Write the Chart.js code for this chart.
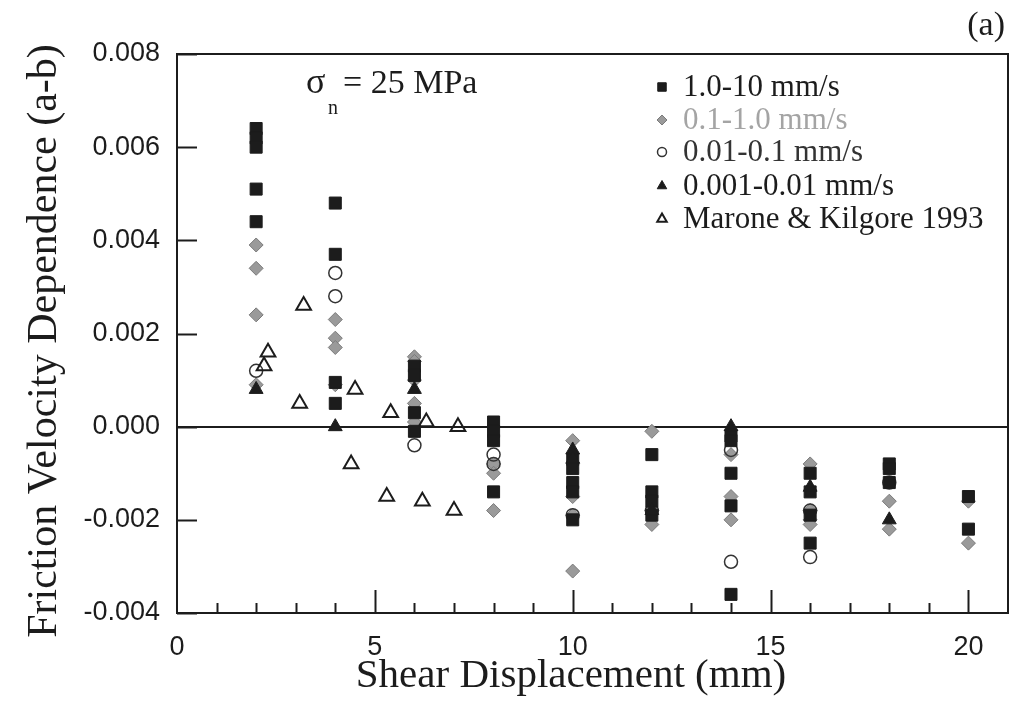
<!DOCTYPE html>
<html>
<head>
<meta charset="utf-8">
<script src="https://cdn.jsdelivr.net/npm/chart.js"></script>
<style>
  html, body { margin: 0; padding: 0; background: #fff; }
  #wrap { width: 1023px; height: 715px; }
</style>
</head>
<body>
<div id="wrap"><canvas id="frictionChart" width="1023" height="715"></canvas></div>
<script>
// Shear displacement (mm) / friction velocity dependence (a-b)
const fastX = [2, 2, 2, 2, 2, 4, 4, 4, 4, 6, 6, 6, 6, 8, 8, 8, 8, 10, 10, 10, 10, 10,
    12, 12, 12, 12, 14, 14, 14, 14, 14, 16, 16, 16, 16, 18, 18, 18, 20, 20];
const fastY = [0.0064, 0.0062, 0.0060, 0.0051, 0.0044, 0.0048, 0.0037, 0.00095, 0.0005,
    0.0013, 0.0011, 0.0003, -0.0001, 0.0001, -0.0001, -0.0003, -0.0014,
    -0.0007, -0.0009, -0.0012, -0.0014, -0.0020, -0.0006, -0.0014, -0.0016, -0.0019,
    -0.0002, -0.0003, -0.0010, -0.0017, -0.0036, -0.0010, -0.0014, -0.0019, -0.0025,
    -0.0008, -0.0009, -0.0012, -0.0015, -0.0022];

const midX = [2, 2, 2, 2, 4, 4, 4, 4, 6, 6, 6, 6, 6, 8, 8, 8, 10, 10, 10, 10,
    12, 12, 12, 14, 14, 14, 16, 16, 16, 16, 18, 18, 20, 20];
const midY = [0.0039, 0.0034, 0.0024, 0.0009, 0.0023, 0.0019, 0.0017, 0.0009,
    0.0015, 0.0014, 0.0010, 0.0005, 0.0001, -0.0008, -0.0010, -0.0018,
    -0.0003, -0.0015, -0.0019, -0.0031, -0.0001, -0.0018, -0.0021,
    -0.0006, -0.0015, -0.0020, -0.0008, -0.0018, -0.0020, -0.0021,
    -0.0016, -0.0022, -0.0016, -0.0025];

const slowX = [2, 4, 4, 6, 8, 8, 10, 12, 14, 14, 16, 16, 18];
const slowY = [0.0012, 0.0033, 0.0028, -0.0004, -0.0006, -0.0008, -0.0019, -0.0018,
    -0.0005, -0.0029, -0.0018, -0.0028, -0.0012];

const slowestX = [2, 4, 6, 10, 10, 12, 14, 16, 18];
const slowestY = [0.0008, 0.0000, 0.0008, -0.0005, -0.0007, -0.0018, 0.0000, -0.0013, -0.0020];

const mkX = [2.2, 2.3, 3.1, 3.2, 4.4, 4.5, 5.3, 5.4, 6.2, 6.3, 7.0, 7.1];
const mkY = [0.0013, 0.0016, 0.0005, 0.0026, -0.0008, 0.0008, -0.0015, 0.0003, -0.0016, 0.0001, -0.0018, 0.0000];

const xTickValues = [0, 5, 10, 15, 20];
const yTickValues = [-0.004, -0.002, 0, 0.002, 0.004, 0.006, 0.008];

const INK = "#1c1c1c";
const GREY = "#9a9a9a";

function pts(xs, ys) {
    return xs.map((x, i) => ({ x: x, y: ys[i] }));
}

// inward ticks, box frame, axis titles, legend and the notes inside the plot
const frameAndNotes = {
    id: "frameAndNotes",
    afterDraw(chart) {
        const ctx = chart.ctx;
        const a = chart.chartArea;
        const xs = chart.scales.x;
        const ys = chart.scales.y;
        ctx.save();
        ctx.strokeStyle = INK;
        ctx.lineWidth = 2;

        // x ticks: minor every 1 mm, major every 5 mm
        for (let v = 1; v <= 20; v++) {
            const px = Math.round(xs.getPixelForValue(v)) + 0.5;
            const len = v % 5 === 0 ? 23 : 10;
            ctx.beginPath();
            ctx.moveTo(px, a.bottom);
            ctx.lineTo(px, a.bottom - len);
            ctx.stroke();
        }
        // y ticks
        yTickValues.forEach((v) => {
            const py = Math.round(ys.getPixelForValue(v)) + 0.5;
            ctx.beginPath();
            ctx.moveTo(a.left, py);
            ctx.lineTo(a.left + 20, py);
            ctx.stroke();
        });
        ctx.strokeRect(a.left, a.top, a.right - a.left, a.bottom - a.top);

        // axis titles (the originals sit a little off the plot centre)
        ctx.fillStyle = INK;
        ctx.textAlign = "center";
        ctx.textBaseline = "middle";
        ctx.font = "41px 'Liberation Serif'";
        ctx.fillText("Shear Displacement (mm)", 571, 676);
        ctx.save();
        ctx.translate(45, 341);
        ctx.rotate(-Math.PI / 2);
        ctx.font = "42px 'Liberation Serif'";
        ctx.fillText("Friction Velocity Dependence (a-b)", 0, 0);
        ctx.restore();

        // legend
        const rowY = [87, 120, 152, 186, 219];
        const legendSize = [6, 5, 4.5, 5.5, 5.5];
        chart.data.datasets.forEach((ds, i) => {
            ctx.fillStyle = ds.pointBackgroundColor;
            ctx.strokeStyle = ds.pointBorderColor;
            ctx.lineWidth = ds.pointBorderWidth;
            Chart.helpers.drawPoint(ctx, {
                pointStyle: ds.pointStyle,
                radius: legendSize[i],
                rotation: 0,
                borderWidth: ds.pointBorderWidth,
            }, 662, rowY[i]);
            ctx.fillStyle = ds.legendColor;
            ctx.font = "31px 'Liberation Serif'";
            ctx.textAlign = "left";
            ctx.textBaseline = "middle";
            ctx.fillText(ds.label, 683, rowY[i] + 1);
        });

        // normal stress note
        ctx.fillStyle = INK;
        ctx.textBaseline = "alphabetic";
        ctx.font = "36px 'Liberation Serif'";
        ctx.fillText("σ", 306, 93);
        ctx.font = "20px 'Liberation Serif'";
        ctx.fillText("n", 328, 114);
        ctx.font = "34px 'Liberation Serif'";
        ctx.fillText("= 25 MPa", 343, 93);

        // panel letter
        ctx.textAlign = "right";
        ctx.fillText("(a)", 1005, 35);
        ctx.restore();
    },
};

const datasets = [
    {
        label: "1.0-10 mm/s",
        data: pts(fastX, fastY),
        pointStyle: "rect",
        pointRadius: 8.5,
        pointBackgroundColor: INK,
        pointBorderColor: INK,
        pointBorderWidth: 1,
        legendColor: INK,
        order: 2,
    },
    {
        label: "0.1-1.0 mm/s",
        data: pts(midX, midY),
        pointStyle: "rectRot",
        pointRadius: 7,
        pointBackgroundColor: GREY,
        pointBorderColor: "#7b7b7b",
        pointBorderWidth: 1,
        legendColor: "#a4a4a4",
        order: 5,
    },
    {
        label: "0.01-0.1 mm/s",
        data: pts(slowX, slowY),
        pointStyle: "circle",
        pointRadius: 6.5,
        pointBackgroundColor: "rgba(255,255,255,0)",
        pointBorderColor: "#333",
        pointBorderWidth: 1.5,
        legendColor: "#333",
        order: 4,
    },
    {
        label: "0.001-0.01 mm/s",
        data: pts(slowestX, slowestY),
        pointStyle: "triangle",
        pointRadius: 8,
        pointBackgroundColor: INK,
        pointBorderColor: INK,
        pointBorderWidth: 1,
        legendColor: INK,
        order: 1,
    },
    {
        label: "Marone & Kilgore 1993",
        data: pts(mkX, mkY),
        pointStyle: "triangle",
        pointRadius: 8.5,
        pointBackgroundColor: "rgba(255,255,255,0)",
        pointBorderColor: INK,
        pointBorderWidth: 2,
        legendColor: INK,
        order: 3,
    },
];

const frictionChart = new Chart(document.getElementById("frictionChart"), {
    type: "scatter",
    data: {
        datasets: datasets,
    },
    options: {
        responsive: false,
        animation: false,
        layout: {
            padding: { top: 54, right: 15, left: 0, bottom: 0 },
        },
        scales: {
            x: {
                type: "linear",
                min: 0,
                max: 21,
                afterBuildTicks: (scale) => {
                    scale.ticks = xTickValues.map((v) => ({ value: v }));
                },
                afterFit: (scale) => {
                    scale.height = 102;
                },
                grid: { display: false },
                border: { display: false },
                ticks: {
                    padding: 10,
                    color: INK,
                    font: { family: "'Liberation Sans'", size: 27 },
                    maxRotation: 0,
                },
            },
            y: {
                type: "linear",
                min: -0.004,
                max: 0.008,
                afterBuildTicks: (scale) => {
                    scale.ticks = yTickValues.map((v) => ({ value: v }));
                },
                afterFit: (scale) => {
                    scale.width = 177;
                },
                grid: {
                    drawTicks: false,
                    lineWidth: 2,
                    // only the zero line is drawn across the plot
                    color: (c) => (c.tick && Math.abs(c.tick.value) < 1e-9 ? INK : "rgba(0,0,0,0)"),
                },
                border: { display: false },
                ticks: {
                    padding: 17,
                    color: INK,
                    font: { family: "'Liberation Sans'", size: 27 },
                    callback: (v) => v.toFixed(3),
                },
            },
        },
        plugins: {
            legend: { display: false },
            tooltip: { enabled: false },
        },
    },
    plugins: [frameAndNotes],
});
</script>
</body>
</html>
